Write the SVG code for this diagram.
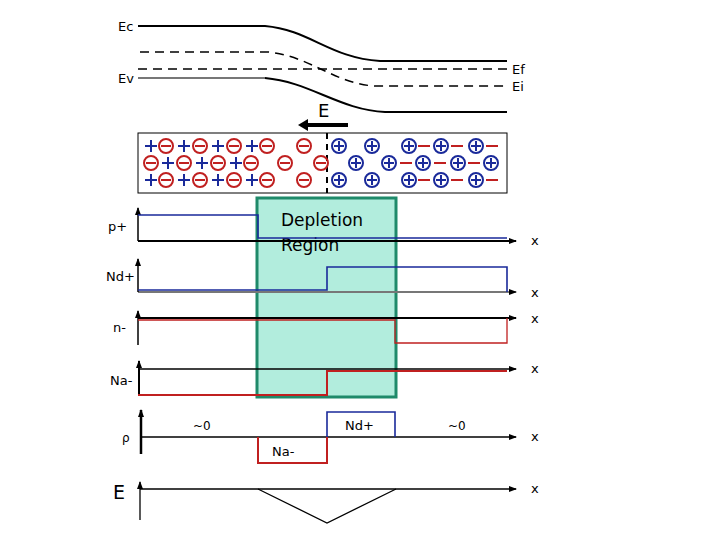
<svg xmlns="http://www.w3.org/2000/svg" width="720" height="540" viewBox="0 0 720 540">
<style>
text{font-family:"DejaVu Sans","Liberation Sans",sans-serif;fill:#000}
.lb{font-size:13px}
.ax{stroke:#000;stroke-width:2;fill:none}
.n{fill:none;stroke:#c02020;stroke-width:2}
.p{fill:none;stroke:#1a2a9a;stroke-width:1.6}
.r{font-size:20px;fill:#c02020;text-anchor:middle}
.b{font-size:20px;fill:#1a2a9a;text-anchor:middle}
</style>
<defs>
<marker id="ah" markerWidth="8" markerHeight="8" refX="7" refY="4" orient="auto" markerUnits="userSpaceOnUse"><path d="M0,1 L8,4 L0,7 Z" fill="#000"/></marker>
<g id="mi"><circle r="7" class="n" fill="none"/><line x1="-5" y1="0" x2="5" y2="0" stroke="#c02020" stroke-width="2"/></g>
<g id="pl"><circle r="7" fill="none" stroke="#1a2a9a" stroke-width="2"/><line x1="-5" y1="0" x2="5" y2="0" stroke="#1a2a9a" stroke-width="2"/><line x1="0" y1="-5" x2="0" y2="5" stroke="#1a2a9a" stroke-width="2"/></g>
<g id="bp"><line x1="-6" y1="0" x2="6" y2="0" stroke="#1a2a9a" stroke-width="2"/><line x1="0" y1="-6" x2="0" y2="6" stroke="#1a2a9a" stroke-width="2"/></g>
<g id="rm"><line x1="-6" y1="0" x2="6" y2="0" stroke="#c02020" stroke-width="2"/></g>
</defs>
<g id="bands">
<path d="M138,26 H265 C310,30 330,58 380,61 H507" class="ax" stroke-width="2"/>
<path d="M140,52 H268 C310,56 335,84 375,86 H507" fill="none" stroke="#000" stroke-width="1.5" stroke-dasharray="9,6"/>
<line x1="138" y1="69" x2="507" y2="69" stroke="#000" stroke-width="1.5" stroke-dasharray="9,6"/>
<path d="M138,78 H265" stroke="#777" stroke-width="2"/>
<path d="M265,78 C310,82 340,110 385,112 H507" class="ax"/>
<text x="118" y="31" class="lb">Ec</text>
<text x="118" y="83" class="lb">Ev</text>
<text x="512" y="74" class="lb">Ef</text>
<text x="512" y="91" class="lb">Ei</text>
<text x="318" y="117" font-size="18">E</text>
<line x1="348" y1="125" x2="306" y2="125" stroke="#000" stroke-width="4"/>
<path d="M298,125 L308,119 L308,131 Z" fill="#000"/>
</g>
<g id="charges">
<rect x="138" y="133" width="369" height="60" fill="#fff" stroke="#000" stroke-width="1"/>
<line x1="327" y1="133" x2="327" y2="193" stroke="#000" stroke-width="2" stroke-dasharray="6,5"/>
<g transform="translate(0,146)">
<use href="#bp" x="151"/><use href="#mi" x="166"/><use href="#bp" x="184"/><use href="#mi" x="200"/><use href="#bp" x="218"/><use href="#mi" x="234"/><use href="#bp" x="252"/><use href="#mi" x="267"/><use href="#mi" x="304"/>
<use href="#pl" x="339"/><use href="#pl" x="372"/><use href="#pl" x="409"/><use href="#rm" x="424"/><use href="#pl" x="441"/><use href="#rm" x="457"/><use href="#pl" x="476"/><use href="#rm" x="492"/>
</g>
<g transform="translate(0,163)">
<use href="#mi" x="151"/><use href="#bp" x="168"/><use href="#mi" x="184"/><use href="#bp" x="202"/><use href="#mi" x="218"/><use href="#bp" x="236"/><use href="#mi" x="251"/><use href="#mi" x="285"/><use href="#mi" x="321"/>
<use href="#pl" x="356"/><use href="#pl" x="389"/><use href="#rm" x="406"/><use href="#pl" x="423"/><use href="#rm" x="440"/><use href="#pl" x="458"/><use href="#rm" x="474"/><use href="#pl" x="491"/>
</g>
<g transform="translate(0,180)">
<use href="#bp" x="151"/><use href="#mi" x="166"/><use href="#bp" x="184"/><use href="#mi" x="200"/><use href="#bp" x="218"/><use href="#mi" x="234"/><use href="#bp" x="252"/><use href="#mi" x="267"/><use href="#mi" x="304"/>
<use href="#pl" x="339"/><use href="#pl" x="372"/><use href="#pl" x="409"/><use href="#rm" x="424"/><use href="#pl" x="441"/><use href="#rm" x="457"/><use href="#pl" x="476"/><use href="#rm" x="492"/>
</g>
</g>
<g id="depletion">
<rect x="257" y="198" width="139" height="199" fill="#b2eddd" stroke="#1f8a6a" stroke-width="3"/>
<text x="281" y="226" font-size="17">Depletion</text>
<text x="281" y="251" font-size="17">Region</text>
</g>
<g id="plots">
<line x1="138" y1="241" x2="516" y2="241" class="ax" marker-end="url(#ah)"/>
<line x1="138" y1="241" x2="138" y2="208" stroke="#000" stroke-width="1.5" marker-end="url(#ah)"/>
<path d="M138,215 H258 V238 H507" class="p"/>
<text x="531" y="245" class="lb">x</text>
<text x="108" y="231" class="lb">p+</text>

<line x1="138" y1="292" x2="516" y2="292" stroke="#777" stroke-width="2" marker-end="url(#ah)"/>
<line x1="138" y1="292" x2="138" y2="259" stroke="#000" stroke-width="1.5" marker-end="url(#ah)"/>
<path d="M138,290 H327 V267 H507 V292" class="p"/>
<text x="531" y="297" class="lb">x</text>
<text x="106" y="281" class="lb">Nd+</text>

<line x1="138" y1="318" x2="516" y2="318" class="ax" marker-end="url(#ah)"/>
<line x1="138" y1="345" x2="138" y2="311" stroke="#000" stroke-width="1.5" marker-end="url(#ah)"/>
<path d="M138,320 H395 V343 H507 V318" fill="none" stroke="#c02020" stroke-width="1.3"/>
<text x="531" y="323" class="lb">x</text>
<text x="113" y="332" class="lb">n-</text>

<line x1="138" y1="369" x2="516" y2="369" stroke="#000" stroke-width="1.3" marker-end="url(#ah)"/>
<line x1="139" y1="396" x2="139" y2="361" stroke="#000" stroke-width="2" marker-end="url(#ah)"/>
<path d="M138,395 H327 V371 H507" class="n"/>
<text x="531" y="373" class="lb">x</text>
<text x="110" y="385" class="lb">Na-</text>

<line x1="140" y1="437" x2="516" y2="437" stroke="#000" stroke-width="1.3" marker-end="url(#ah)"/>
<line x1="141" y1="454" x2="141" y2="410" stroke="#000" stroke-width="2.5" marker-end="url(#ah)"/>
<path d="M258,437 V463 H327 V437" class="n"/>
<path d="M327,437 V412 H395 V437" class="p" stroke-width="2"/>
<text x="531" y="441" class="lb">x</text>
<text x="122" y="442" font-size="12">ρ</text>
<text x="193" y="430" font-size="12">~0</text>
<text x="448" y="430" font-size="12">~0</text>
<text x="345" y="430" class="lb">Nd+</text>
<text x="272" y="456" class="lb">Na-</text>

<line x1="140" y1="489" x2="516" y2="489" stroke="#000" stroke-width="1.3" marker-end="url(#ah)"/>
<line x1="140" y1="520" x2="140" y2="482" stroke="#000" stroke-width="1.3" marker-end="url(#ah)"/>
<path d="M258,489 L327,523 L396,489" fill="none" stroke="#000" stroke-width="1.3"/>
<text x="531" y="493" class="lb">x</text>
<text x="113" y="499" font-size="19">E</text>
</g>
</svg>
